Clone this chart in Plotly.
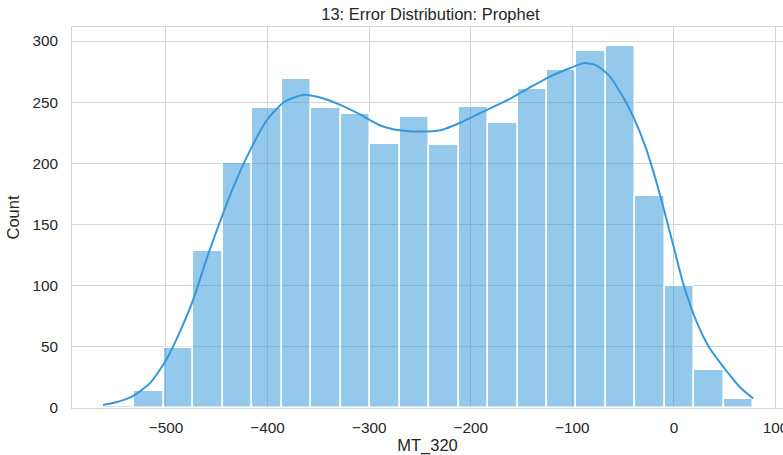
import numpy as np
import plotly.graph_objects as go

# Histogram bins (edges) and counts
bin_start = -560.0
bin_width = 29.0
counts = [2, 14, 49, 128, 200, 245, 269, 245, 240, 216, 238,
          215, 246, 233, 261, 276, 292, 296, 173, 100, 31, 7]

# KDE curve points (count scale)
kde_x = [-562, -550, -540, -530, -515, -500, -487, -473, -460, -447, -434,
         -417, -401, -384, -365, -345, -329, -309, -289, -270, -250, -230,
         -211, -191, -181, -161, -142, -122, -102, -88, -76, -63, -50, -40,
         -27, -14, -1, 9, 22, 35, 52, 65, 78]
kde_y = [2.5, 4.5, 7, 11, 21, 39, 61, 89, 122, 152, 180,
         211, 235, 250, 256, 253, 248, 240, 231, 227, 226, 227,
         233, 241, 245, 253, 262, 271, 278, 282, 280, 271, 254, 238,
         211, 175, 134, 102, 71, 49, 30, 17, 7.7]

x_ticks = [-500, -400, -300, -200, -100, 0, 100]
y_ticks = [0, 50, 100, 150, 200, 250, 300]

title_text = "13: Error Distribution: Prophet"
x_label = "MT_320"
y_label = "Count"

n = len(counts)
centers = bin_start + bin_width * (np.arange(n) + 0.5)

FONT = "Liberation Sans, Arial, Helvetica, sans-serif"
TXT = "#262626"
GRID = "#d4d4d4"

fig = go.Figure()
fig.add_trace(go.Bar(
    x=centers, y=counts, width=bin_width,
    marker=dict(color="rgba(52,152,219,0.52)",
                line=dict(color="white", width=1.5)),
    hoverinfo="x+y", showlegend=False,
))
fig.add_trace(go.Scatter(
    x=kde_x, y=kde_y, mode="lines",
    line=dict(color="#3498db", width=2, shape="spline", smoothing=0.6),
    showlegend=False,
))

fig.update_layout(
    width=783, height=455,
    margin=dict(l=72, r=0, t=27, b=47),
    paper_bgcolor="white", plot_bgcolor="white",
    font=dict(family=FONT, color=TXT, size=15),
    bargap=0,
    title=dict(text=title_text, x=0.504, xref="paper", xanchor="center",
               y=1 - 14 / 455, yref="container", yanchor="middle",
               font=dict(size=16.5, color=TXT, family=FONT)),
    xaxis=dict(
        range=[-592.5, 107.3], tickvals=x_ticks, automargin=False,
        showgrid=True, gridcolor=GRID, gridwidth=1,
        zeroline=False, showline=True, linecolor=GRID, linewidth=1, mirror=True,
        ticks="", ticklabelstandoff=6, ticklabeloverflow="allow",
        tickfont=dict(size=15.3, color=TXT),
        title=dict(text=x_label, standoff=4, font=dict(size=16.5, color=TXT)),
    ),
    yaxis=dict(
        range=[0, 311.5], tickvals=y_ticks, automargin=False,
        showgrid=True, gridcolor=GRID, gridwidth=1,
        zeroline=False, showline=True, linecolor=GRID, linewidth=1, mirror=True,
        ticks="", ticklabelstandoff=10,
        tickfont=dict(size=15.3, color=TXT),
        title=dict(text=y_label, standoff=8, font=dict(size=16.5, color=TXT)),
    ),
)

fig.write_html("out.html",
               config={"displayModeBar": False},
               post_script="document.body.style.margin='0px';document.body.style.overflow='hidden';")
